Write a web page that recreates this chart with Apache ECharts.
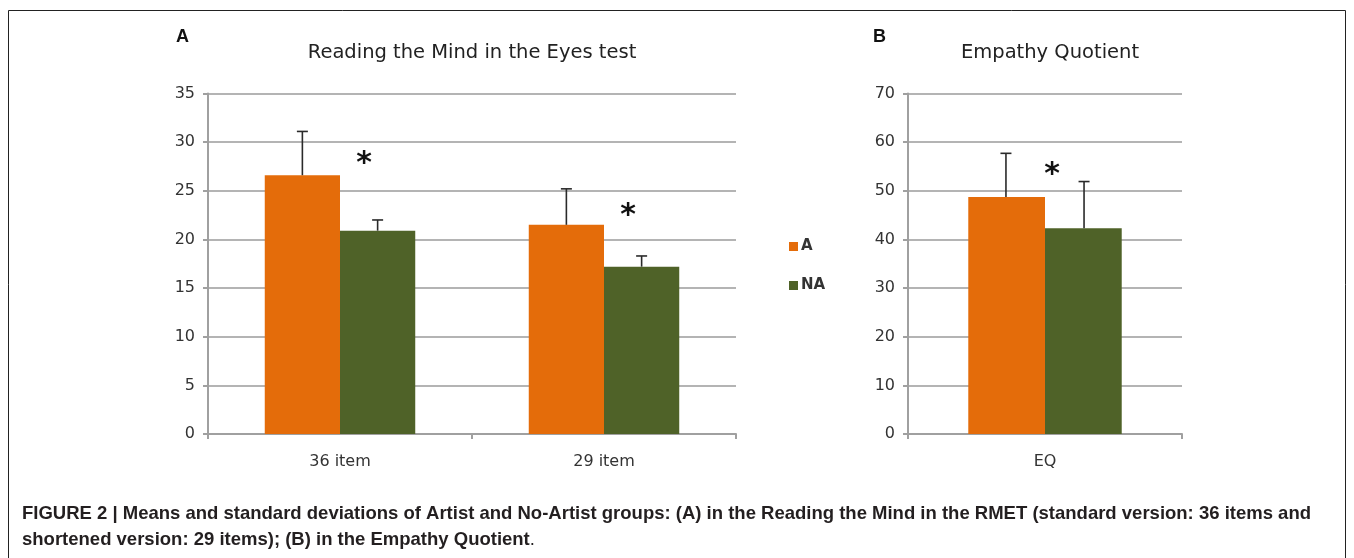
<!DOCTYPE html>
<html>
<head>
<meta charset="utf-8">
<script src="https://cdn.jsdelivr.net/npm/echarts@6/dist/echarts.min.js"></script>
<style>
html,body{margin:0;padding:0;background:#fff;}
#chart{width:1354px;height:558px;}
</style>
</head>
<body>
<div id="chart"></div>
<script>
// ---- Data ----
var rmetCategories = ['36 item', '29 item'];
var rmetArtist = [26.6, 21.5];
var rmetNonArtist = [20.9, 17.2];
var rmetArtistUpper = [31.1, 25.2];
var rmetNonArtistUpper = [22.0, 18.3];
var rmetStarValue = [28.4, 23.0];

var eqCategories = ['EQ'];
var eqArtist = [48.7];
var eqNonArtist = [42.3];
var eqArtistUpper = [57.7];
var eqNonArtistUpper = [51.9];
var eqStarValue = [54.4];

var seriesNames = ['A', 'NA'];
var rmetTicks = [0, 35, 5];
var eqTicks = [0, 70, 10];

// ---- Style ----
var ORANGE = '#E46C0A';
var GREEN = '#4F6228';
var GRID_COLOR = '#b4b4b4';
var AXIS_COLOR = '#a0a0a0';
var GAP = 0.43;

var chart = echarts.init(document.getElementById('chart'));

function errorRender(side) {
  return function (params, api) {
    var idx = api.value(0);
    var band = api.size([1, 0])[0];
    var barW = band * (1 - GAP) / 2;
    var top = api.coord([idx, api.value(1)]);
    var bot = api.coord([idx, api.value(2)]);
    var x = top[0] + side * barW / 2;
    var cap = 5.5;
    var st = { stroke: '#2a2a2a', lineWidth: 1.6 };
    return {
      type: 'group',
      children: [
        { type: 'line', shape: { x1: x, y1: bot[1], x2: x, y2: top[1] }, style: st },
        { type: 'line', shape: { x1: x - cap, y1: top[1], x2: x + cap, y2: top[1] }, style: st }
      ]
    };
  };
}

function errData(upper, base) {
  return upper.map(function (u, i) { return [i, u, base[i]]; });
}

function starRender(dx) {
  return function (params, api) {
    var p = api.coord([api.value(0), api.value(1)]);
    return {
      type: 'text',
      x: p[0] + dx, y: p[1] + 6,
      style: {
        text: '*', fill: '#111', fontSize: 30, fontWeight: 'bold',
        fontFamily: 'DejaVu Sans', align: 'center', verticalAlign: 'middle'
      }
    };
  };
}

function starData(vals) { return vals.map(function (v, i) { return [i, v]; }); }

var yLabel = { color: '#333', fontSize: 16, fontFamily: 'DejaVu Sans', margin: 13 };
var xLabel = { color: '#333', fontSize: 16, fontFamily: 'DejaVu Sans', margin: 20 };
var titleStyle = { fontFamily: 'DejaVu Sans', fontSize: 19.5, fontWeight: 'normal', color: '#222' };

var option = {
  animation: false,
  backgroundColor: '#fff',
  title: [
    { text: 'Reading the Mind in the Eyes test', left: 467, top: 38, textAlign: 'center', textStyle: titleStyle },
    { text: 'Empathy Quotient', left: 1045, top: 38, textAlign: 'center', textStyle: titleStyle }
  ],
  legend: {
    orient: 'vertical', left: 784, top: 234, itemWidth: 9, itemHeight: 9, itemGap: 24,
    data: seriesNames,
    icon: 'rect',
    textStyle: { fontFamily: 'DejaVu Sans', fontSize: 15, fontWeight: 'bold', color: '#333', padding: [0, 0, 0, -2] }
  },
  grid: [
    { left: 208, top: 93.5, width: 528, height: 340.5 },
    { left: 908, top: 93.5, width: 274, height: 340.5 }
  ],
  xAxis: [
    { type: 'category', gridIndex: 0, data: rmetCategories,
      axisLine: { lineStyle: { color: AXIS_COLOR, width: 2 } },
      axisTick: { show: true, length: 5, lineStyle: { color: AXIS_COLOR, width: 2 } },
      axisLabel: xLabel },
    { type: 'category', gridIndex: 1, data: eqCategories,
      axisLine: { lineStyle: { color: AXIS_COLOR, width: 2 } },
      axisTick: { show: true, length: 5, lineStyle: { color: AXIS_COLOR, width: 2 } },
      axisLabel: xLabel }
  ],
  yAxis: [
    { type: 'value', gridIndex: 0, min: rmetTicks[0], max: rmetTicks[1], interval: rmetTicks[2],
      axisLine: { show: true, lineStyle: { color: AXIS_COLOR, width: 2 } },
      axisTick: { show: true, length: 5, lineStyle: { color: AXIS_COLOR, width: 2 } },
      splitLine: { lineStyle: { color: GRID_COLOR, width: 2 } },
      axisLabel: yLabel },
    { type: 'value', gridIndex: 1, min: eqTicks[0], max: eqTicks[1], interval: eqTicks[2],
      axisLine: { show: true, lineStyle: { color: AXIS_COLOR, width: 2 } },
      axisTick: { show: true, length: 5, lineStyle: { color: AXIS_COLOR, width: 2 } },
      splitLine: { lineStyle: { color: GRID_COLOR, width: 2 } },
      axisLabel: yLabel }
  ],
  series: [
    { name: 'A', type: 'bar', xAxisIndex: 0, yAxisIndex: 0, data: rmetArtist,
      barGap: '0%', barCategoryGap: '43%', itemStyle: { color: ORANGE } },
    { name: 'NA', type: 'bar', xAxisIndex: 0, yAxisIndex: 0, data: rmetNonArtist,
      barGap: '0%', barCategoryGap: '43%', itemStyle: { color: GREEN } },
    { name: 'A', type: 'bar', xAxisIndex: 1, yAxisIndex: 1, data: eqArtist,
      barGap: '0%', barCategoryGap: '44%', itemStyle: { color: ORANGE } },
    { name: 'NA', type: 'bar', xAxisIndex: 1, yAxisIndex: 1, data: eqNonArtist,
      barGap: '0%', barCategoryGap: '44%', itemStyle: { color: GREEN } },
    { type: 'custom', xAxisIndex: 0, yAxisIndex: 0, renderItem: errorRender(-1),
      data: errData(rmetArtistUpper, rmetArtist), z: 5, silent: true },
    { type: 'custom', xAxisIndex: 0, yAxisIndex: 0, renderItem: errorRender(1),
      data: errData(rmetNonArtistUpper, rmetNonArtist), z: 5, silent: true },
    { type: 'custom', xAxisIndex: 1, yAxisIndex: 1, renderItem: errorRender(-1),
      data: errData(eqArtistUpper, eqArtist), z: 5, silent: true },
    { type: 'custom', xAxisIndex: 1, yAxisIndex: 1, renderItem: errorRender(1),
      data: errData(eqNonArtistUpper, eqNonArtist), z: 5, silent: true },
    { type: 'custom', xAxisIndex: 0, yAxisIndex: 0, renderItem: starRender(24),
      data: starData(rmetStarValue), z: 6, silent: true },
    { type: 'custom', xAxisIndex: 1, yAxisIndex: 1, renderItem: starRender(7),
      data: starData(eqStarValue), z: 6, silent: true }
  ],
  graphic: [
    { type: 'rect', shape: { x: 8.5, y: 10.5, width: 1337, height: 560 },
      style: { fill: 'none', stroke: '#222', lineWidth: 1 }, silent: true },
    { type: 'text', x: 176, y: 28,
      style: { text: 'A', fontFamily: 'Liberation Sans', fontWeight: 'bold', fontSize: 18, fill: '#111' } },
    { type: 'text', x: 873, y: 28,
      style: { text: 'B', fontFamily: 'Liberation Sans', fontWeight: 'bold', fontSize: 18, fill: '#111' } },
    { type: 'text', x: 22, y: 514,
      style: { text: 'FIGURE 2 | Means and standard deviations of Artist and No-Artist groups: (A) in the Reading the Mind in the RMET (standard version: 36 items and',
        fontFamily: 'Liberation Sans', fontWeight: 'bold', fontSize: 18.5, fill: '#231f20', verticalAlign: 'middle' } },
    { type: 'text', x: 22, y: 540,
      style: { text: '{b|shortened version: 29 items); (B) in the Empathy Quotient}{n|.}',
        fontFamily: 'Liberation Sans', fontSize: 18.5, fill: '#231f20', verticalAlign: 'middle',
        rich: { b: { fontFamily: 'Liberation Sans', fontWeight: 'bold', fontSize: 18.5, fill: '#231f20' },
                n: { fontFamily: 'Liberation Sans', fontWeight: 'normal', fontSize: 18.5, fill: '#231f20' } } } }
  ]
};
chart.setOption(option);
</script>
</body>
</html>
